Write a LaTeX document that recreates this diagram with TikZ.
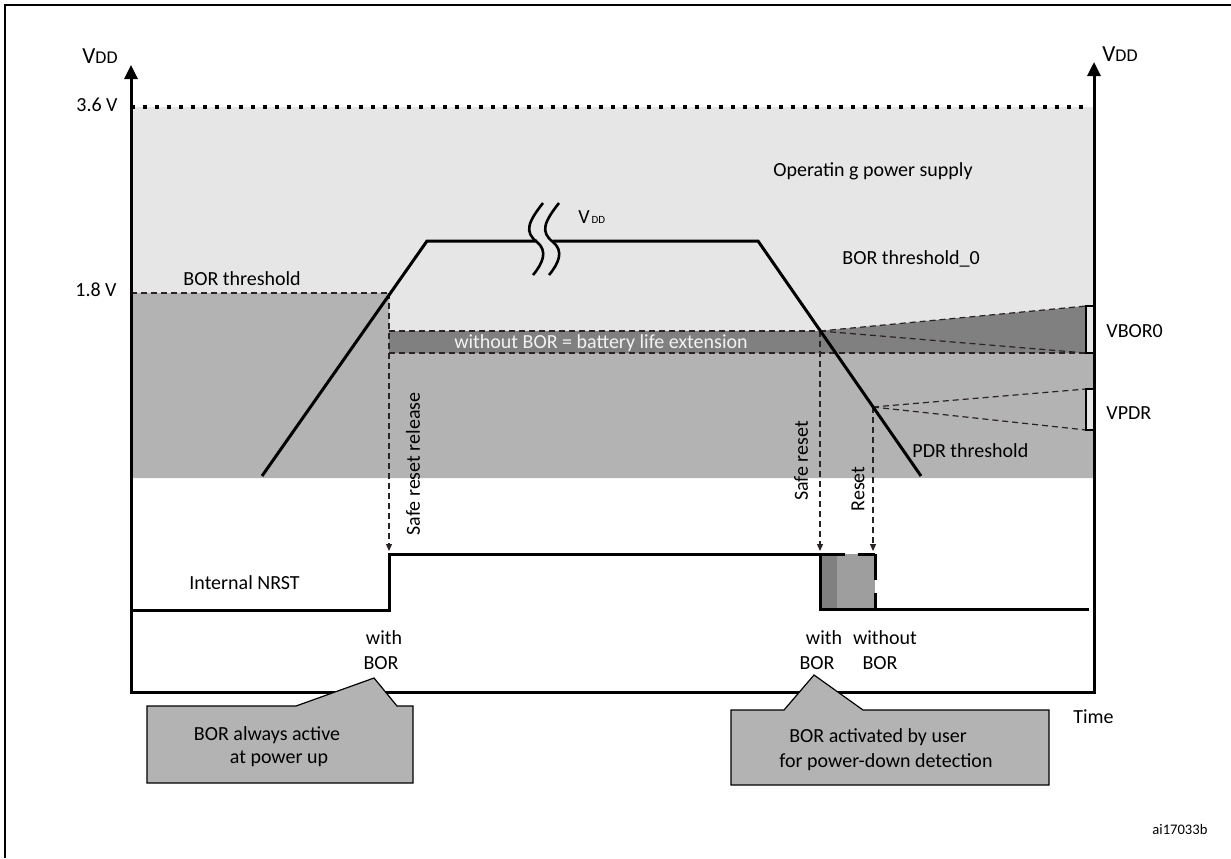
\documentclass[tikz,border=0pt]{standalone}
\usepackage{fontspec}
\setmainfont{Carlito}
\usetikzlibrary{arrows.meta}
\definecolor{lgray}{HTML}{E6E6E6}
\definecolor{mgray}{HTML}{B3B3B3}
\definecolor{dgray}{HTML}{808080}
\definecolor{pgray}{HTML}{9E9E9E}
\definecolor{dline}{HTML}{2B2222}
\begin{document}
\begin{tikzpicture}[x=0.5pt,y=-0.5pt,
  lbl/.style={inner sep=0pt, font=\fontsize{10}{12}\selectfont},
  small/.style={inner sep=0pt, font=\fontsize{7.3}{9}\selectfont},
  dsh/.style={draw=dline, line width=0.6pt, dash pattern=on 3pt off 2pt},
  darr/.style={dsh, -{Triangle[width=3pt,length=3.5pt]}},
  axisline/.style={line width=1.5pt, line join=miter, {Triangle[width=6.5pt,length=7pt]}-{Triangle[width=6.5pt,length=7pt]}},
  sig/.style={line width=1.5pt, line join=miter},
  brk/.style={line width=1.3pt},
  callout/.style={fill=mgray, draw=black, line width=0.6pt},
  marker/.style={fill=lgray, draw=black, line width=0.7pt},
]
\useasboundingbox (0,0) rectangle (1231,858);
% outer frame (only top and left visible)
\draw[line width=1.25pt] (5,858) -- (5,5) -- (1231,5);

% coordinates
\coordinate (bth) at (389,293);
\coordinate (bthL) at (131,293);
\coordinate (xb) at (820,331);
\coordinate (xp) at (873,407);
\coordinate (bandL) at (389,331);
\coordinate (bandLL) at (389,353);
\coordinate (wTop) at (1086,306);
\coordinate (wBot) at (1086,353);
\coordinate (pTop) at (1086,389);
\coordinate (pBot) at (1086,430);
\coordinate (relEnd) at (389,551);
\coordinate (safeEnd) at (820,551);
\coordinate (rstEnd) at (873,551);

% background fills
\fill[lgray] (131,107) rectangle (1094,478);
\fill[mgray] (131,293) -- (389,293) -- (389,353) -- (1094,353) -- (1094,478) -- (131,478) -- cycle;
\fill[dgray] (bandL) -- (xb) -- (wTop) -- (wBot) -- (bandLL) -- cycle;

% 3.6 V dotted line
\draw[line width=2pt, dash pattern=on 2pt off 4pt] (131,107) -- (1090,107);

% dashed threshold lines
\draw[dsh] (bthL) -- (bth);
\draw[dsh] (bandL) -- (xb);
\draw[dsh] (xb) -- (wTop);
\draw[dsh] (xb) -- (wBot);
\draw[dsh] (bandLL) -- (wBot);
\draw[dsh] (xp) -- (pTop);
\draw[dsh] (xp) -- (pBot);

% dashed arrows to NRST
\draw[darr] (bth) -- (relEnd);
\draw[darr] (xb) -- (safeEnd);
\draw[darr] (xp) -- (rstEnd);

% VDD curve
\draw[sig] (262,476) -- (427,241) -- (537,241);
\draw[sig] (553,241) -- (758,241) -- (921,476);
\draw[brk] (543,203) .. controls (528,222) and (524,232) .. (537,242) .. controls (548,251) and (543,263) .. (533,275);
\draw[brk] (559,203) .. controls (544,222) and (540,232) .. (553,242) .. controls (564,251) and (559,263) .. (549,275);

% threshold markers
\draw[marker] (1086,306) rectangle (1095,353);
\draw[marker] (1086,389) rectangle (1095,430);

% axes
\draw[axisline] (131,65) -- (131,692) -- (1094,692) -- (1094,62);

% Internal NRST signal
\fill[pgray] (820,554) rectangle (875,609);
\fill[dgray] (820,554) rectangle (837,609);
\draw[sig] (131,610) -- (389,610) -- (389,554) -- (820,554);
\draw[sig] (820,554) -- (820,609) -- (1089,609);
\draw[sig] (820,554) -- (845,554);
\draw[sig] (858,554) -- (875,554);
\draw[sig] (875,554) -- (875,580);
\draw[sig] (875,593) -- (875,609);

% callouts
\draw[callout] (147,706) -- (296,706) -- (374,678) -- (397,706) -- (413,706) -- (413,783) -- (147,783) -- cycle;
\draw[callout] (731,710) -- (784,710) -- (814,675) -- (863,710) -- (1049,710) -- (1049,785) -- (731,785) -- cycle;

% texts
\node[inner sep=0pt, anchor=base east] (vddL) at (118,63) {\fontsize{11.5}{13}\selectfont V\fontsize{9}{11}\selectfont DD};
\node[inner sep=0pt, anchor=base west] (vddR) at (1102,61) {\fontsize{11.5}{13}\selectfont V\fontsize{9}{11}\selectfont DD};
\node[lbl, anchor=base east] (v36) at (118,111) {3.6 V};
\node[lbl, anchor=base east] (v18) at (117,296) {1.8 V};
\node[lbl, anchor=base west] (borth) at (183,285) {BOR threshold};
\node[lbl] (ops) at (873,171) {Operatin g power supply};
\node[lbl, anchor=base west] (borth0) at (842,264) {BOR threshold\_0};
\node[inner sep=0pt, anchor=base west] (vddc) at (578,223) {\fontsize{10}{12}\selectfont V\fontsize{5.5}{7}\selectfont\,DD};
\node[lbl, text=white!95!black] (ext) at (601,343) {without BOR = battery life extension};
\node[lbl, anchor=west] (vbor) at (1106,331) {VBOR0};
\node[lbl, anchor=west] (vpdr) at (1106,413) {VPDR};
\node[lbl, anchor=base west] (pdrth) at (912,457) {PDR threshold};
\node[lbl, anchor=west] (nrst) at (189,583) {Internal NRST};
\node[lbl, rotate=90] (srr) at (413,464) {Safe reset release};
\node[lbl, rotate=90] (sr) at (801,461) {Safe reset};
\node[lbl, rotate=90] (rst) at (858,489) {Reset};
\node[lbl] (w1) at (384,638) {with};
\node[lbl] (b1) at (381,663) {BOR};
\node[lbl] (w2) at (824,638) {with};
\node[lbl] (b2) at (817,663) {BOR};
\node[lbl] (w3) at (885,638) {without};
\node[lbl] (b3) at (880,663) {BOR};
\node[lbl, anchor=west] (time) at (1073,717) {Time};
\node[lbl] (c1a) at (267,735) {BOR always active};
\node[lbl] (c1b) at (279,759) {at power up};
\node[lbl] (c2a) at (878,737) {BOR activated by user};
\node[lbl] (c2b) at (886,762) {for power-down detection};
\node[small, anchor=west] (ai) at (1152,829) {ai17033b};
\end{tikzpicture}
\end{document}
